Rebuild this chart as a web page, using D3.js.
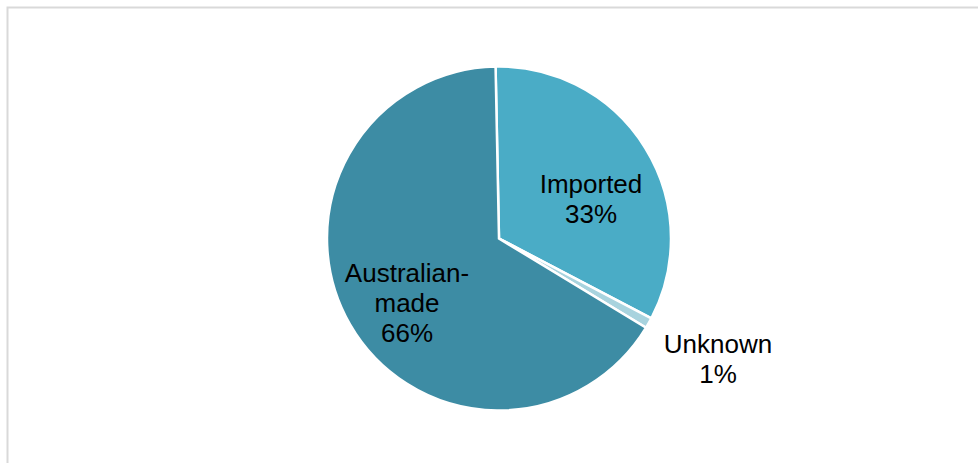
<!DOCTYPE html>
<html>
<head>
<meta charset="utf-8">
<script src="https://cdn.jsdelivr.net/npm/d3@7"></script>
<style>
  html, body { margin: 0; padding: 0; background: #fff; }
  svg { display: block; }
</style>
</head>
<body>
<svg id="chart" width="978" height="463"></svg>
<script>
// Share of products by origin (%)
const categories = ["Imported", "Unknown", "Australian-made"];
const shares = [33, 1, 66];
const sliceColors = ["#4aacc6", "#a8d3de", "#3d8ca4"];
// Label lines shown for each slice
const labelLines = [["Imported", "33%"], ["Unknown", "1%"], ["Australian-", "made", "66%"]];

const svg = d3.select("#chart");
const W = 978, H = 463;

// chart area frame
svg.append("rect")
  .attr("x", 7.5).attr("y", 7.5)
  .attr("width", W).attr("height", H)
  .attr("fill", "#fff")
  .attr("stroke", "#d9d9d9")
  .attr("stroke-width", 2);

const cx = 499, cy = 238.5, r = 172;

const data = categories.map((c, i) => ({ name: c, value: shares[i], color: sliceColors[i], lines: labelLines[i] }));

const pie = d3.pie().value(d => d.value).sort(null)
  .startAngle(-0.02).endAngle(2 * Math.PI - 0.02);
const arcs = pie(data);
const arc = d3.arc().innerRadius(0).outerRadius(r);

const g = svg.append("g").attr("transform", `translate(${cx},${cy})`);

g.selectAll("path.slice")
  .data(arcs)
  .join("path")
  .attr("class", "slice")
  .attr("d", arc)
  .attr("fill", d => d.data.color)
  .attr("stroke", "#fff")
  .attr("stroke-width", 2.5)
  .attr("stroke-linejoin", "miter");

// label placement: inside for big slices, outside for the small one
const inner = d3.arc().innerRadius(r * 0.62).outerRadius(r * 0.62);
const outer = d3.arc().innerRadius(r * 1.38).outerRadius(r * 1.38);
const fontSize = 26, lineH = 30;

arcs.forEach((a, i) => {
  let [x, y] = (a.data.value < 5 ? outer : inner).centroid(a);
  if (a.data.name === "Imported") { x = 92; y = -40; }
  if (a.data.name === "Australian-made") { x = -92; y = 64; }
  if (a.data.name === "Unknown") { x = 219; y = 120; }
  const n = a.data.lines.length;
  const t = g.append("text")
    .attr("text-anchor", "middle")
    .attr("font-family", "Arial, 'Liberation Sans', sans-serif")
    .attr("font-size", fontSize)
    .attr("fill", "#000");
  a.data.lines.forEach((ln, k) => {
    t.append("tspan")
      .attr("x", x)
      .attr("y", y + (k - (n - 1) / 2) * lineH + fontSize * 0.36)
      .text(ln);
  });
});
</script>
</body>
</html>
